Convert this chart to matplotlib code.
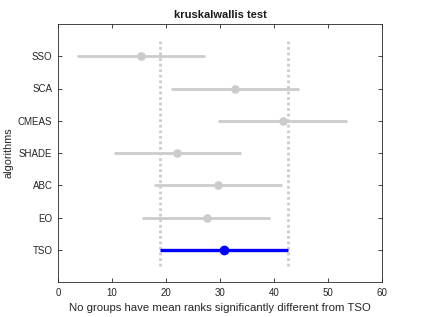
import matplotlib
matplotlib.use("Agg")
import matplotlib.pyplot as plt

algorithms = ["TSO", "EO", "ABC", "SHADE", "CMEAS", "SCA", "SSO"]
centers = [30.7, 27.5, 29.6, 22.1, 41.6, 32.7, 15.4]
lowers = [18.8, 15.6, 17.7, 10.3, 29.7, 20.9, 3.5]
uppers = [42.6, 39.3, 41.5, 33.9, 53.5, 44.6, 27.2]
ref_lines = [18.8, 42.6]
xticks = [0, 10, 20, 30, 40, 50, 60]

plt.rcParams['font.family'] = ['Liberation Sans', 'DejaVu Sans']

fig = plt.figure(figsize=(4.23, 3.17), dpi=100)
ax = fig.add_axes([58/423, 1-282/317, (382-58)/423, (282-24)/317])

grey = (0.8, 0.8, 0.8)
for x in ref_lines:
    ax.plot([x, x], [0.5, len(algorithms) + 0.5], linestyle=(0, (1, 1)), color=grey, lw=2.0, zorder=1)

for i, (name, c, lo, hi) in enumerate(zip(algorithms, centers, lowers, uppers)):
    y = i + 1
    if i == 0:
        ax.plot([lo, hi], [y, y], color='blue', lw=2.4, solid_capstyle='butt', zorder=3)
        ax.plot([c], [y], 'o', color='blue', ms=6.0, zorder=4)
    else:
        ax.plot([lo, hi], [y, y], color=grey, lw=2.0, solid_capstyle='butt', zorder=2)
        ax.plot([c], [y], 'o', color=grey, ms=5.2, zorder=2)

ax.set_xlim(0, 60)
ax.set_ylim(0, len(algorithms) + 1)
ax.set_xticks(xticks)
ax.set_yticks(range(1, len(algorithms) + 1))
ax.set_yticklabels(algorithms)
ax.tick_params(direction='in', top=True, right=True, labelsize=7, length=3, width=0.6, colors='#262626', pad=4)
for sp in ax.spines.values():
    sp.set_linewidth(0.6)
    sp.set_color('#262626')
ax.set_xlabel("No groups have mean ranks significantly different from TSO", fontsize=8.2, color='#262626', labelpad=4)
ax.set_ylabel("algorithms", fontsize=7.8, color='#262626', labelpad=3)
ax.set_title("kruskalwallis test", fontsize=8, fontweight='bold', color='#1a1a1a', pad=4)

fig.savefig("out.png", dpi=100)
